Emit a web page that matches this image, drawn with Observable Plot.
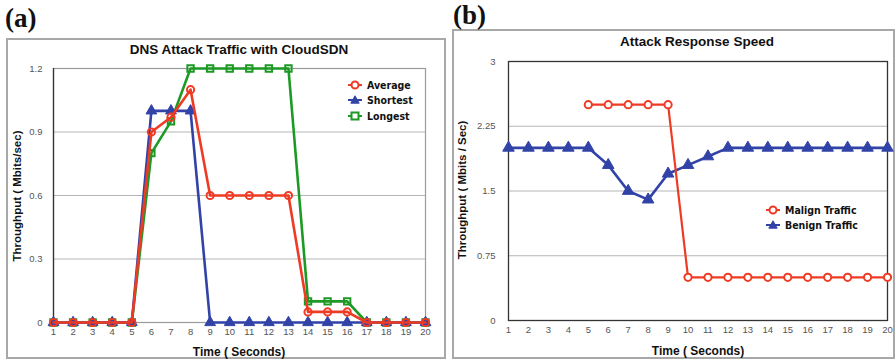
<!DOCTYPE html>
<html>
<head>
<meta charset="utf-8">
<script src="https://cdn.jsdelivr.net/npm/d3@7"></script>
<script src="https://cdn.jsdelivr.net/npm/@observablehq/plot@0.6"></script>
<style>
  html, body { margin: 0; padding: 0; background: #fff; }
  #root { position: relative; width: 895px; height: 360px; overflow: hidden; font-family: "Liberation Sans", Arial, sans-serif; }
  .box { position: absolute; border: 2px solid #a8a8a8; box-sizing: border-box; }
  .panel-tag { position: absolute; font-family: "Liberation Serif", "DejaVu Serif", serif; font-weight: bold; font-size: 27px; line-height: 1; color: #111; }
  .title { position: absolute; font-weight: bold; font-size: 13.5px; color: #111; white-space: nowrap; transform: translate(-50%, -50%); }
  .xlab { position: absolute; font-weight: bold; font-size: 12px; color: #111; white-space: nowrap; transform: translate(-50%, -50%); }
  .ylab { position: absolute; font-weight: bold; font-size: 11.5px; color: #111; white-space: nowrap; transform: translate(-50%, -50%) rotate(-90deg); }
  .legend { position: absolute; font-family: "DejaVu Sans Condensed", "DejaVu Sans", sans-serif; font-weight: bold; font-size: 10.5px; color: #111; }
  .legend .row { display: flex; align-items: center; height: 15.5px; white-space: nowrap; }
  .legend svg { margin-right: 4px; }
  .plotwrap { position: absolute; top: 0; }
  .plotwrap svg { max-width: none; }
</style>
</head>
<body>
<div id="root">
  <div class="box" style="left:6px; top:38px; width:440px; height:321px;"></div>
  <div class="box" style="left:452px; top:29px; width:443px; height:330px;"></div>
  <div class="panel-tag" style="left:5px; top:5px;">(a)</div>
  <div class="panel-tag" style="left:453px; top:2px;">(b)</div>
  <div class="title" style="left:239px; top:49px;">DNS Attack Traffic with CloudSDN</div>
  <div class="title" style="left:697px; top:41px;">Attack Response Speed</div>
  <div class="xlab" style="left:239px; top:352px;">Time ( Seconds)</div>
  <div class="xlab" style="left:698px; top:351px;">Time ( Seconds)</div>
  <div class="ylab" style="left:17px; top:196px;">Throughput ( Mbits/sec)</div>
  <div class="ylab" style="left:462px; top:190px;">Throughput ( Mbits / Sec)</div>
  <div id="plotA" class="plotwrap" style="left:0px;"></div>
  <div id="plotB" class="plotwrap" style="left:453px;"></div>
  <div id="legA" class="legend" style="left:347px; top:77px;"></div>
  <div id="legB" class="legend" style="left:765px; top:202px;"></div>
</div>
<script>
// ---------- Data ----------
const time = [1,2,3,4,5,6,7,8,9,10,11,12,13,14,15,16,17,18,19,20];

// Panel (a): DNS Attack Traffic with CloudSDN
const averageA  = [0,0,0,0,0,0.9,0.97,1.1,0.6,0.6,0.6,0.6,0.6,0.05,0.05,0.05,0,0,0,0];
const shortestA = [0,0,0,0,0,1.0,1.0,1.0,0,0,0,0,0,0,0,0,0,0,0,0];
const longestA  = [0,0,0,0,0,0.8,0.95,1.2,1.2,1.2,1.2,1.2,1.2,0.1,0.1,0.1,0,0,0,0];
const yTicksA = [0,0.3,0.6,0.9,1.2];

// Panel (b): Attack Response Speed
const malignB = [null,null,null,null,2.5,2.5,2.5,2.5,2.5,0.5,0.5,0.5,0.5,0.5,0.5,0.5,0.5,0.5,0.5,0.5];
const benignB = [2.0,2.0,2.0,2.0,2.0,1.8,1.5,1.4,1.7,1.8,1.9,2.0,2.0,2.0,2.0,2.0,2.0,2.0,2.0,2.0];
const yTicksB = [0,0.75,1.5,2.25,3];

const seriesA = ["Average","Shortest","Longest"];
const seriesB = ["Malign Traffic","Benign Traffic"];

// ---------- Styles ----------
const RED = "#ef3b24", BLUE = "#3243a8", GREEN = "#1c9a25";

const toRows = (vals) => time.map((t, i) => ({t, v: vals[i]}));
const avgRows = toRows(averageA), shortRows = toRows(shortestA), longRows = toRows(longestA);
const malRows = toRows(malignB), benRows = toRows(benignB);

const baseStyle = {background: "transparent", fontFamily: "Liberation Sans, Arial, sans-serif", fontSize: "9.5px", color: "#555", overflow: "visible"};

const plotA = Plot.plot({
  width: 445, height: 360,
  marginLeft: 53, marginRight: 20, marginTop: 68, marginBottom: 38,
  style: baseStyle,
  x: {domain: [1,20], ticks: time, tickFormat: d => String(d), tickSize: 0, tickPadding: 6, label: null},
  y: {domain: [0,1.2], ticks: yTicksA, tickFormat: d => String(d), tickSize: 0, tickPadding: 11, label: null},
  marks: [
    Plot.ruleY(yTicksA, {stroke: "#b5b5b5", strokeWidth: 1}),
    Plot.frame({stroke: "#9a9a9a", strokeWidth: 1.2}),
    Plot.ruleX([1], {stroke: "#333", strokeWidth: 1.3}),
    Plot.line(longRows, {x: "t", y: "v", stroke: GREEN, strokeWidth: 2.6}),
    Plot.dot(longRows, {x: "t", y: "v", symbol: "square", r: 3.6, stroke: GREEN, strokeWidth: 2, fill: "none"}),
    Plot.line(shortRows, {x: "t", y: "v", stroke: BLUE, strokeWidth: 2.6}),
    Plot.dot(shortRows, {x: "t", y: "v", symbol: "triangle", r: 4, stroke: BLUE, strokeWidth: 1, fill: BLUE}),
    Plot.line(avgRows, {x: "t", y: "v", stroke: RED, strokeWidth: 2.6}),
    Plot.dot(avgRows, {x: "t", y: "v", symbol: "circle", r: 3.6, stroke: RED, strokeWidth: 2, fill: "none"})
  ]
});
document.getElementById("plotA").appendChild(plotA);

const plotB = Plot.plot({
  width: 442, height: 360,
  marginLeft: 55, marginRight: 8, marginTop: 61, marginBottom: 40,
  style: baseStyle,
  x: {domain: [1,20], ticks: time, tickFormat: d => String(d), tickSize: 0, tickPadding: 6, label: null},
  y: {domain: [0,3], ticks: yTicksB, tickFormat: d => String(d), tickSize: 0, tickPadding: 13, label: null},
  marks: [
    Plot.ruleY(yTicksB, {stroke: "#b5b5b5", strokeWidth: 1}),
    Plot.frame({stroke: "#333", strokeWidth: 1.3}),
    Plot.line(benRows, {x: "t", y: "v", stroke: BLUE, strokeWidth: 2.6}),
    Plot.dot(benRows, {x: "t", y: "v", symbol: "triangle", r: 4.3, stroke: BLUE, strokeWidth: 1, fill: BLUE}),
    Plot.line(malRows, {x: "t", y: "v", stroke: RED, strokeWidth: 2.2}),
    Plot.dot(malRows.filter(d => d.v != null), {x: "t", y: "v", symbol: "circle", r: 3.6, stroke: RED, strokeWidth: 2, fill: "white"})
  ]
});
document.getElementById("plotB").appendChild(plotB);

// ---------- Legends ----------
function symbolSvg(kind, color) {
  let shape;
  if (kind === "circle") shape = `<circle cx="8" cy="6" r="3.5" fill="white" stroke="${color}" stroke-width="2"/>`;
  else if (kind === "square") shape = `<rect x="4.5" y="2.5" width="7" height="7" fill="white" stroke="${color}" stroke-width="2"/>`;
  else shape = `<path d="M8,1.8 L12.2,9.2 L3.8,9.2 Z" fill="${color}" stroke="${color}" stroke-width="1"/>`;
  return `<svg width="16" height="12" viewBox="0 0 16 12"><line x1="1" y1="6" x2="15" y2="6" stroke="${color}" stroke-width="2"/>${shape}</svg>`;
}
function legend(el, names, kinds, colors) {
  el.innerHTML = names.map((n, i) => `<div class="row">${symbolSvg(kinds[i], colors[i])}<span>${n}</span></div>`).join("");
}
legend(document.getElementById("legA"), seriesA, ["circle","triangle","square"], [RED, BLUE, GREEN]);
legend(document.getElementById("legB"), seriesB, ["circle","triangle"], [RED, BLUE]);
</script>
</body>
</html>
